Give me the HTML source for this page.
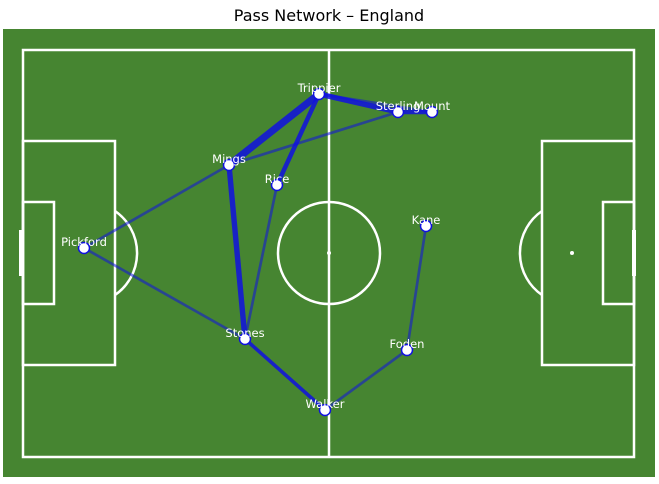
<!DOCTYPE html>
<html><head><meta charset="utf-8"><style>
body{margin:0;background:#fff;width:659px;height:479px;overflow:hidden;font-family:"Liberation Sans","DejaVu Sans",sans-serif}
</style></head><body>
<svg width="659" height="479">
<text x="329" y="21" text-anchor="middle" font-size="16" fill="#000" font-family="DejaVu Sans, sans-serif">Pass Network – England</text>
<rect x="3" y="29" width="652" height="448" fill="#468531"/>
<g fill="none" stroke="#fff" stroke-width="2.5">
<rect x="23" y="50" width="611" height="407"/>
<line x1="329" y1="50" x2="329" y2="457"/>
<circle cx="329" cy="253" r="51"/>
<rect x="23" y="141" width="92" height="224"/>
<rect x="23" y="202" width="31" height="102"/>
<path d="M115 211 A51 51 0 0 1 115 295"/>
<path d="M542 211 A51 51 0 0 0 542 295"/>
<rect x="542" y="141" width="92" height="224"/>
<rect x="603" y="202" width="31" height="102"/>
<line x1="21" y1="230" x2="21" y2="276" stroke-width="4"/>
<line x1="634" y1="230" x2="634" y2="276" stroke-width="4"/>
</g>
<circle cx="329" cy="253" r="2" fill="#fff"/>
<circle cx="572" cy="253" r="2" fill="#fff"/>
<g id="edges"></g>
<g id="nodes"></g>
</svg>
<script>
const players=["Trippier","Sterling","Mount","Mings","Rice","Kane","Pickford","Stones","Foden","Walker"];
const px=[319,398,432,229,277,426,84,245,407,325];
const py=[94,112,112,165,185,226,248,339,350,410];
const edgeFrom=[0,0,0,1,0,3,3,4,6,6,7,9,8];
const edgeTo=[3,1,2,2,4,1,7,7,3,7,9,8,5];
const edgePasses=[8,6,3,5,5,3,6,3,3,3,4,3,3];
const NS="http://www.w3.org/2000/svg";
const eg=document.getElementById('edges'),ng=document.getElementById('nodes');
for(let i=0;i<edgeFrom.length;i++){
 const a=edgeFrom[i],b=edgeTo[i],w=edgePasses[i];
 const l=document.createElementNS(NS,'line');
 l.setAttribute('x1',px[a]);l.setAttribute('y1',py[a]);l.setAttribute('x2',px[b]);l.setAttribute('y2',py[b]);
 l.setAttribute('stroke','#1010e0');l.setAttribute('stroke-width',w*0.9);
 l.setAttribute('stroke-opacity',w>=4?0.85:0.55);l.setAttribute('stroke-linecap','round');
 
 
 eg.appendChild(l);
}
for(let i=0;i<players.length;i++){
 const c=document.createElementNS(NS,'circle');
 c.setAttribute('cx',px[i]);c.setAttribute('cy',py[i]);c.setAttribute('r',5.5);
 c.setAttribute('fill','#fff');c.setAttribute('stroke','#1010e0');c.setAttribute('stroke-width',1.5);
 
 
 ng.appendChild(c);
 const t=document.createElementNS(NS,'text');
 t.setAttribute('x',px[i]);t.setAttribute('y',py[i]-2);t.setAttribute('text-anchor','middle');
 t.setAttribute('font-size','11.5');t.setAttribute('fill','#fff');t.setAttribute('font-family','DejaVu Sans, sans-serif');
 t.textContent=players[i];
 
 
 ng.appendChild(t);
}
</script>
</body></html>
